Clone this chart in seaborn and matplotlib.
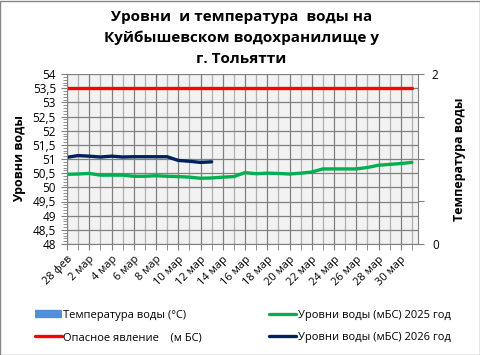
import numpy as np
import matplotlib
matplotlib.use('Agg')
import matplotlib.pyplot as plt
import seaborn as sns
from matplotlib.patches import Rectangle
from matplotlib.ticker import MultipleLocator, FuncFormatter

sns.set_style('white')
plt.rcParams['font.family'] = ['Open Sans', 'DejaVu Sans']
plt.rcParams.update({'text.color': 'black', 'axes.labelcolor': 'black',
                     'xtick.color': 'black', 'ytick.color': 'black'})

# даты: 28 фев .. 31 мар
dni = ['28 фев'] + [f'{d} мар' for d in range(1, 32)]

# уровни воды, м БС
uroven_2025 = [50.46, 50.47, 50.49, 50.43, 50.43, 50.43, 50.39, 50.39,
               50.41, 50.39, 50.38, 50.36, 50.32, 50.33, 50.36, 50.38,
               50.52, 50.48, 50.50, 50.49, 50.47, 50.50, 50.54, 50.65,
               50.65, 50.65, 50.65, 50.70, 50.78, 50.81, 50.84, 50.88]
uroven_2026 = [51.06, 51.12, 51.10, 51.07, 51.10, 51.07, 51.08, 51.08,
               51.08, 51.08, 50.95, 50.92, 50.88, 50.90]
opasnoe = [53.5] * len(dni)
temperatura = []  # данных о температуре нет

x_all = np.arange(len(dni))

fig = plt.figure(figsize=(4.81, 3.55), dpi=100)
ax = fig.add_axes([67 / 481, 1 - 244 / 355, (418 - 67) / 481, (244 - 74) / 355])
ax.set_facecolor('#F2F2F2')

sns.lineplot(x=x_all, y=opasnoe, ax=ax, color='#FF0000', linewidth=2.4)
sns.lineplot(x=x_all, y=uroven_2025, ax=ax, color='#00B050', linewidth=2.4)
sns.lineplot(x=x_all[:len(uroven_2026)], y=uroven_2026, ax=ax, color='#002060', linewidth=2.4)

ax.set_xlim(0, 31.55)
ax.set_ylim(48, 54)

# оси
ax.xaxis.set_minor_locator(MultipleLocator(1))
ax.set_xticks(x_all[::2])
ax.set_xticklabels(dni[::2], rotation=45, ha='right', rotation_mode='anchor', fontsize=8)
ax.yaxis.set_major_locator(MultipleLocator(0.5))
ax.yaxis.set_minor_locator(MultipleLocator(0.1))
ax.yaxis.set_major_formatter(FuncFormatter(lambda v, p: f'{v:g}'.replace('.', ',')))
ax.tick_params(axis='y', which='major', labelsize=8.5, length=4, color='#808080', pad=4)
ax.tick_params(axis='y', which='minor', length=3, color='#808080', left=True)
ax.tick_params(axis='x', which='both', length=4, color='#808080', bottom=True, pad=3)

ax.grid(True, which='major', axis='both', color='#808080', linewidth=0.9)
ax.grid(True, which='minor', axis='x', color='#B0B0B0', linewidth=0.9)
ax.set_axisbelow(True)
for s in ['top', 'right']:
    ax.spines[s].set_visible(False)
for s in ['left', 'bottom']:
    ax.spines[s].set_color('#808080')

ax.set_ylabel('Уровни воды', fontsize=9, fontweight='bold', labelpad=5)

# вторая ось: температура
ax2 = ax.twinx()
ax2.set_ylim(0, 2)
ax2.set_yticks([0, 0.5, 1, 1.5, 2])
ax2.set_yticklabels(['0', '', '', '', '2'], fontsize=8.5)
ax2.tick_params(axis='y', length=4, color='#808080', pad=6)
for s in ['top', 'left', 'bottom']:
    ax2.spines[s].set_visible(False)
ax2.spines['right'].set_color('#808080')
ax2.set_ylabel('Температура воды', fontsize=9, fontweight='bold', labelpad=10)

fig.text(0.502, 0.972, 'Уровни  и температура  воды на\nКуйбышевском водохранилище у\nг. Тольятти',
         ha='center', va='top', fontsize=11, fontweight='bold', linespacing=1.62)

handles = [plt.Line2D([], [], color='#558ED5', lw=6, solid_capstyle='butt', label='Температура воды (°C)'),
           plt.Line2D([], [], color='#FF0000', lw=2.4, label='Опасное явление    (м БС)'),
           plt.Line2D([], [], color='#00B050', lw=2.4, label='Уровни воды (мБС) 2025 год'),
           plt.Line2D([], [], color='#002060', lw=2.4, label='Уровни воды (мБС) 2026 год')]
fig.legend(handles=handles, ncol=2, loc='lower left', bbox_to_anchor=(0.052, 0.005),
           frameon=False, fontsize=8, handlelength=2.4, handletextpad=0.15,
           columnspacing=6.05, labelspacing=1.05)

fig.patches.append(Rectangle((0.001, 0.001), 0.997, 0.996, transform=fig.transFigure,
                             fill=False, edgecolor='#868686', linewidth=1))

fig.savefig('out.png', dpi=100)
